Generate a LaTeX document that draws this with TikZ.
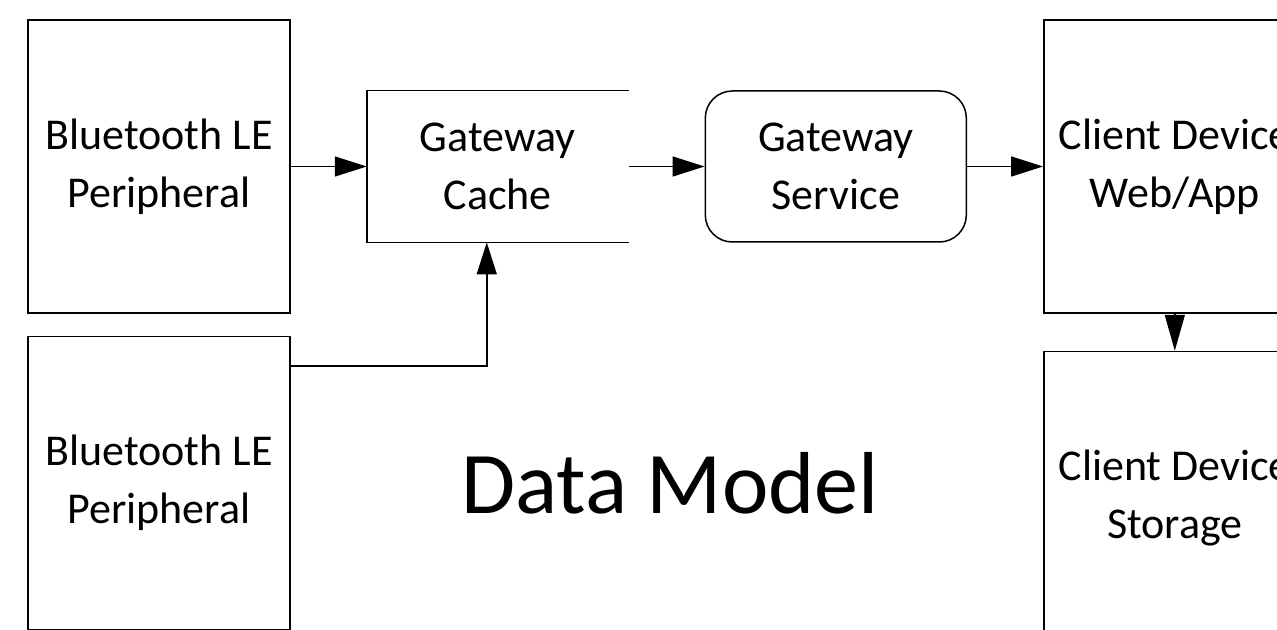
\documentclass[tikz,border=0pt]{standalone}
\usepackage{fontspec}
\setmainfont{Carlito}
\usetikzlibrary{arrows.meta,positioning}

\begin{document}
\begin{tikzpicture}[
    x=0.5pt,y=-0.5pt,
    >={Triangle[length=16pt,width=10pt]},
    flow/.style={->,line width=0.75pt,draw=black},
    block/.style={draw=black,line width=0.75pt,minimum width=131pt,minimum height=146.5pt,
      inner sep=0pt,align=center,font=\fontsize{22}{29}\selectfont},
    cachebox/.style={minimum width=130.5pt,minimum height=75.5pt,
      inner sep=0pt,align=center,font=\fontsize{22}{29}\selectfont},
    servicebox/.style={cachebox,draw=black,line width=0.75pt,rounded corners=13.5pt}
  ]
    \useasboundingbox (0,0) rectangle (1277,630);
    \clip (0,0) rectangle (1277,630);
    \node[block] (bleone) at (159,166.5) {Bluetooth LE\\Peripheral};
    \node[block,below=11pt of bleone] (bletwo) {Bluetooth LE\\Peripheral};
    \node[cachebox,right=38pt of bleone] (cache) {Gateway\\Cache};
    \node[servicebox,right=38pt of cache] (service) {Gateway\\Service};
    \node[block,right=38pt of service] (clientapp) {Client Device\\Web/App};
    \node[block,below=18.5pt of clientapp] (clientstore) {Client Device\\Storage};
    \node[anchor=base,font=\fontsize{44}{53}\selectfont] (title) at (670,513) {Data Model};
    % cache is left open on its right side
    \draw[line width=0.75pt] (cache.north east) -- (cache.north west)
      -- (cache.south west) -- (cache.south east);
    \draw[flow] (bleone) -- (cache);
    \draw[flow] ([yshift=-15pt]bletwo.north east) -| ([xshift=60pt]cache.south west);
    \draw[flow] (cache.east) -- (service);
    \draw[flow] (service) -- (clientapp);
    \draw[flow,-{Triangle[length=18pt,width=10pt]}] (clientapp) -- (clientstore);
  \end{tikzpicture}
\end{document}
